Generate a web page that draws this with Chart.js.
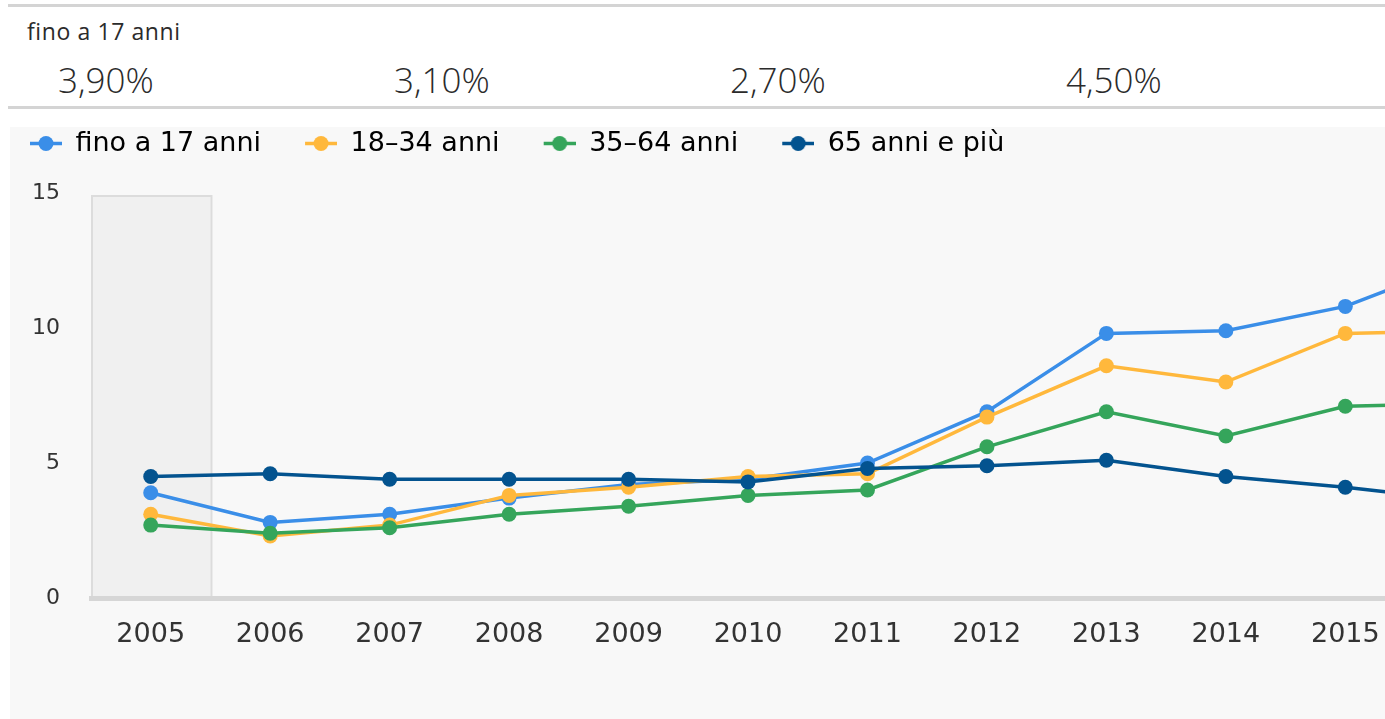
<!DOCTYPE html>
<html>
<head>
<meta charset="utf-8">
<script src="https://cdn.jsdelivr.net/npm/chart.js@4.4.1/dist/chart.umd.min.js"></script>
<style>
  html, body { margin: 0; padding: 0; width: 1385px; height: 719px; overflow: hidden; background: #fff; }
  body { position: relative; font-family: 'Open Sans', sans-serif; color: #333; }
  .rule { position: absolute; left: 8px; right: 0; height: 3px; background: #d4d4d4; }
  .head-label { position: absolute; left: 27px; top: 20px; font-size: 23px; line-height: 1; letter-spacing: 0.6px; color: #2b2b2b; }
  .head-value { position: absolute; top: 62px; font-size: 35px; font-weight: 300; line-height: 1; color: #2b2b2b; }
  .panel { position: absolute; left: 10px; top: 127px; right: 0; bottom: 0; background: #f8f8f8; }
  #chart { position: absolute; left: -14px; top: 120px; }
</style>
</head>
<body>
<div class="rule" style="top:4px"></div>
<div class="head-label" id="headLabel"></div>
<div id="headValues"></div>
<div class="rule" style="top:106px"></div>
<div class="panel"></div>
<canvas id="chart" width="1546" height="599"></canvas>

<script>
// dati
const years = ['2005', '2006', '2007', '2008', '2009', '2010', '2011', '2012', '2013', '2014', '2015', '2016']
const fino17 = [3.9, 2.8, 3.1, 3.7, 4.2, 4.4, 5.0, 6.9, 9.8, 9.9, 10.8, 12.5]
const anni18_34 = [3.1, 2.3, 2.7, 3.8, 4.1, 4.5, 4.6, 6.7, 8.6, 8.0, 9.8, 9.9]
const anni35_64 = [2.7, 2.4, 2.6, 3.1, 3.4, 3.8, 4.0, 5.6, 6.9, 6.0, 7.1, 7.2]
const over65 = [4.5, 4.6, 4.4, 4.4, 4.4, 4.3, 4.8, 4.9, 5.1, 4.5, 4.1, 3.6]
const yTicks = [0, 5, 10, 15]

const headLabel = 'fino a 17 anni'
const headValues = ['3,90%', '3,10%', '2,70%', '4,50%']
const headLefts = [58, 394, 730, 1066]

document.getElementById('headLabel').textContent = headLabel
const hv = document.getElementById('headValues')
headValues.forEach((v, i) => {
    const d = document.createElement('div')
    d.className = 'head-value'
    d.style.left = headLefts[i] + 'px'
    d.textContent = v
    hv.appendChild(d)
})

const series = [
    { label: 'fino a 17 anni', data: fino17, color: '#3a8ee8' },
    { label: '18–34 anni', data: anni18_34, color: '#ffb83c' },
    { label: '35–64 anni', data: anni35_64, color: '#35a55b' },
    { label: '65 anni e più', data: over65, color: '#03538f' }
]

// marker legenda: linea + pallino, con spazio vuoto a sinistra
const GAP = 34
function legendMarker(color) {
    const c = document.createElement('canvas')
    c.width = GAP + 32
    c.height = 27
    const g = c.getContext('2d')
    g.strokeStyle = color
    g.lineWidth = 3.5
    g.beginPath()
    g.moveTo(GAP, 13.5)
    g.lineTo(GAP + 32, 13.5)
    g.stroke()
    g.fillStyle = color
    g.beginPath()
    g.arc(GAP + 16, 13.5, 7.5, 0, Math.PI * 2)
    g.fill()
    return c
}
const markers = series.map(s => legendMarker(s.color))

// banda evidenziata sul primo anno
const highlightBand = {
    id: 'highlightBand',
    beforeDraw(chart) {
        const x = chart.scales.x
        const area = chart.chartArea
        const half = (x.getPixelForValue(1) - x.getPixelForValue(0)) / 2
        const left = x.getPixelForValue(0) - half
        const ctx = chart.ctx
        ctx.save()
        ctx.fillStyle = '#f0f0f0'
        ctx.strokeStyle = '#dcdcdc'
        ctx.lineWidth = 2
        ctx.fillRect(left, area.top + 3, half * 2, area.bottom - area.top - 3)
        ctx.strokeRect(left + 1, area.top + 3, half * 2, area.bottom - area.top - 3)
        ctx.restore()
    }
}

const legendHeight = {
    id: 'legendHeight',
    beforeInit(chart) {
        const fit = chart.legend.fit
        chart.legend.fit = function () {
            fit.call(this)
            this.height = 73
        }
    }
}

const ctx = document.getElementById('chart').getContext('2d')
new Chart(ctx, {
    type: 'line',
    data: {
        labels: years,
        datasets: series.map((s, i) => ({
            label: s.label,
            data: s.data,
            borderColor: s.color,
            backgroundColor: s.color,
            pointBackgroundColor: s.color,
            pointBorderWidth: 0,
            pointRadius: 7.5,
            borderWidth: 3.5,
            tension: 0,
            order: series.length - i // le serie successive sopra
        }))
    },
    options: {
        responsive: false,
        animation: false,
        layout: { padding: 0 },
        plugins: {
            tooltip: { enabled: false },
            legend: {
                position: 'top',
                align: 'start',
                labels: {
                    usePointStyle: true,
                    pointStyleWidth: GAP + 32,
                    padding: 10,
                    color: '#333',
                    font: { family: 'DejaVu Sans', size: 27 },
                    generateLabels: () => series.map((s, i) => ({
                        text: s.label,
                        fillStyle: s.color,
                        strokeStyle: s.color,
                        lineWidth: 0,
                        pointStyle: markers[i],
                        hidden: false,
                        datasetIndex: i
                    }))
                }
            }
        },
        scales: {
            x: {
                offset: true,
                grid: { display: false, drawTicks: false },
                border: { display: true, color: '#d6d6d6', width: 5 },
                ticks: {
                    color: '#333',
                    padding: 21,
                    maxRotation: 0,
                    autoSkip: false,
                    font: { family: 'DejaVu Sans', size: 27 }
                },
                afterFit: scale => { scale.height = 121 }
            },
            y: {
                min: 0,
                max: 15,
                grid: { display: false, drawTicks: false },
                border: { display: false },
                afterBuildTicks: scale => { scale.ticks = yTicks.map(v => ({ value: v })) },
                ticks: {
                    color: '#333',
                    padding: 31,
                    font: { family: 'DejaVu Sans', size: 22 }
                },
                afterFit: scale => { scale.width = 105 }
            }
        }
    },
    plugins: [highlightBand, legendHeight]
})
</script>
</body>
</html>
